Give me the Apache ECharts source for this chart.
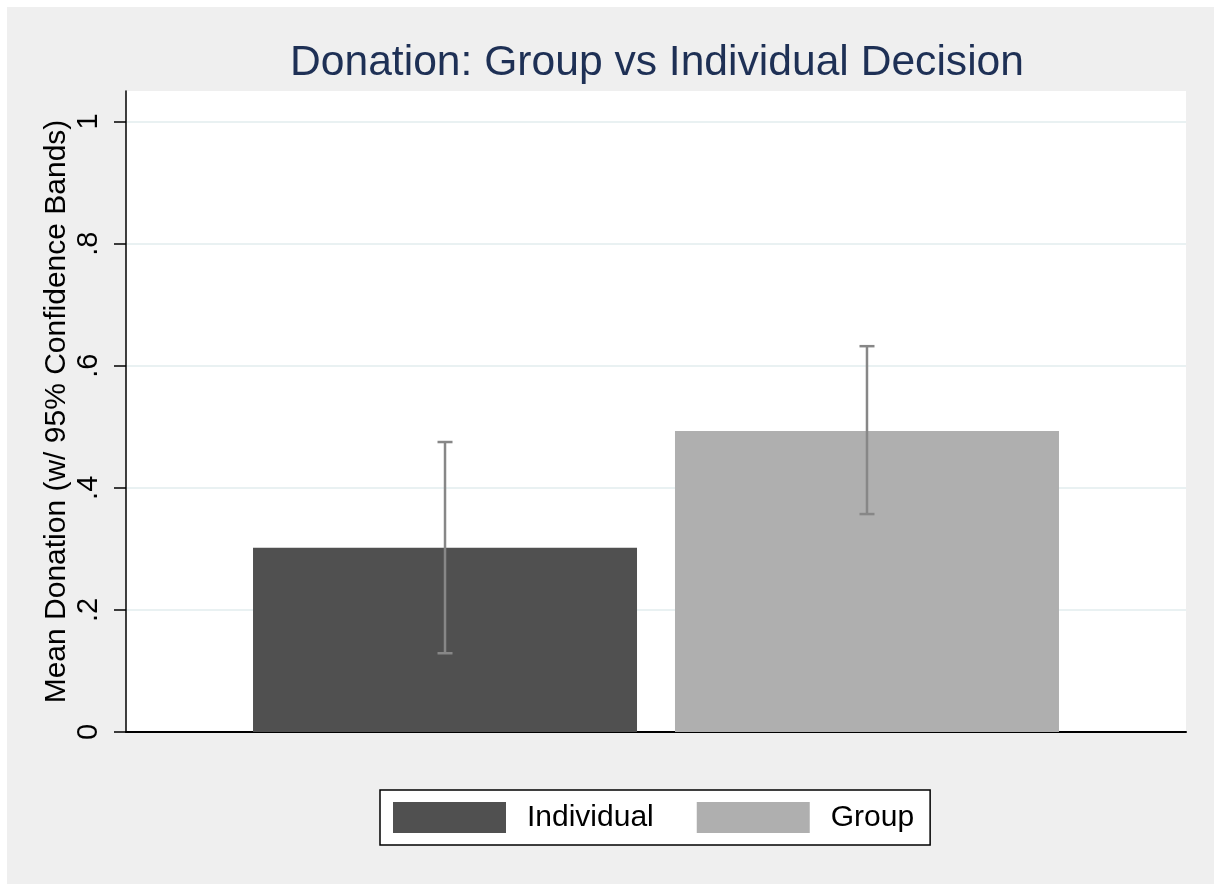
<!DOCTYPE html>
<html>
<head>
<meta charset="utf-8">
<title>Donation: Group vs Individual Decision</title>
<script src="https://cdn.jsdelivr.net/npm/echarts@6/dist/echarts.min.js"></script>
<style>
  html, body { margin: 0; padding: 0; background: #fff; }
  #main { position: absolute; left: 7px; top: 7px; width: 1207px; height: 877px; }
</style>
</head>
<body>
<div id="main"></div>
<script>
// values
var groups = ['Individual', 'Group'];
var meanDonation = [0.302, 0.493];
var ciLower = [0.129, 0.357];
var ciUpper = [0.475, 0.632];
var yTicks = [0, 0.2, 0.4, 0.6, 0.8, 1];

var barColors = ['#505050', '#afafaf'];
var barWidth = 0.91;   // in x-axis units, bars sit at 1 and 2
var font = 'Liberation Sans, Arial, Helvetica, sans-serif';

var myChart = echarts.init(document.getElementById('main'));

function renderBar(params, api) {
    var x = api.value(0);
    var y = api.value(1);
    var p0 = api.coord([x - barWidth / 2, y]);
    var p1 = api.coord([x + barWidth / 2, 0]);
    return {
        type: 'rect',
        shape: { x: p0[0], y: p0[1], width: p1[0] - p0[0], height: p1[1] - p0[1] },
        style: api.style()
    };
}

function renderErrorBar(params, api) {
    var x = api.value(0);
    var lo = api.coord([x, api.value(1)]);
    var hi = api.coord([x, api.value(2)]);
    var cap = 7.5;
    var st = { stroke: '#878787', lineWidth: 2.5 };
    return {
        type: 'group',
        children: [
            { type: 'line', shape: { x1: lo[0], y1: lo[1], x2: hi[0], y2: hi[1] }, style: st },
            { type: 'line', shape: { x1: lo[0] - cap, y1: lo[1], x2: lo[0] + cap, y2: lo[1] }, style: st },
            { type: 'line', shape: { x1: hi[0] - cap, y1: hi[1], x2: hi[0] + cap, y2: hi[1] }, style: st }
        ]
    };
}

var series = groups.map(function(name, i) {
    return {
        name: name,
        type: 'custom',
        renderItem: renderBar,
        itemStyle: { color: barColors[i] },
        encode: { x: 0, y: 1 },
        data: [[i + 1, meanDonation[i]]],
        z: 2
    };
});

series.push({
    name: 'ci',
    type: 'custom',
    renderItem: renderErrorBar,
    encode: { x: 0, y: [1, 2] },
    data: groups.map(function(name, i) {
        return [i + 1, ciLower[i], ciUpper[i]];
    }),
    z: 3
});

var option = {
    animation: false,
    backgroundColor: '#efefef',
    textStyle: { fontFamily: font },
    title: {
        text: 'Donation: Group vs Individual Decision',
        left: 645,
        top: 30,
        textAlign: 'center',
        textStyle: { fontSize: 42.6, fontWeight: 'normal', color: '#1e3055', fontFamily: font }
    },
    legend: {
        data: groups.map(function(g) { return { name: g, icon: 'rect' }; }),
        left: 373,
        top: 783,
        itemWidth: 113,
        itemHeight: 31,
        itemGap: 43,
        padding: [12, 16, 12, 13],
        backgroundColor: '#ffffff',
        borderColor: '#000000',
        borderWidth: 1.5,
        borderRadius: 0,
        selectedMode: false,
        textStyle: { fontSize: 30, color: '#000', padding: [3, 0, 0, 16], fontFamily: font }
    },
    grid: {
        left: 119,
        right: 28,
        top: 84,
        bottom: 152,
        show: true,
        backgroundColor: '#ffffff',
        borderWidth: 0
    },
    xAxis: {
        type: 'value',
        min: 0.244,
        max: 2.756,
        axisLine: { show: true, onZero: false, lineStyle: { color: '#000', width: 2 } },
        axisTick: { show: false },
        axisLabel: { show: false },
        splitLine: { show: false }
    },
    yAxis: {
        type: 'value',
        min: 0,
        max: 1.05,
        interval: 0.2,
        name: 'Mean Donation (w/ 95% Confidence Bands)',
        nameLocation: 'middle',
        nameGap: 54,
        nameRotate: 90,
        nameMoveOverlap: false,
        nameTextStyle: { fontSize: 30, color: '#000', fontFamily: font },
        axisLine: { show: true, lineStyle: { color: '#000', width: 1.5 } },
        axisTick: { show: true, length: 12, customValues: yTicks, lineStyle: { color: '#000', width: 1.5 } },
        axisLabel: {
            rotate: 90,
            margin: 23,
            fontSize: 29,
            color: '#000',
            customValues: yTicks,
            formatter: function(v) {
                return String(Math.round(v * 10) / 10).replace(/^0\./, '.');
            }
        },
        splitLine: { show: true, lineStyle: { color: '#e9f1f2', width: 2 } }
    },
    series: series
};

myChart.setOption(option);
</script>
</body>
</html>
